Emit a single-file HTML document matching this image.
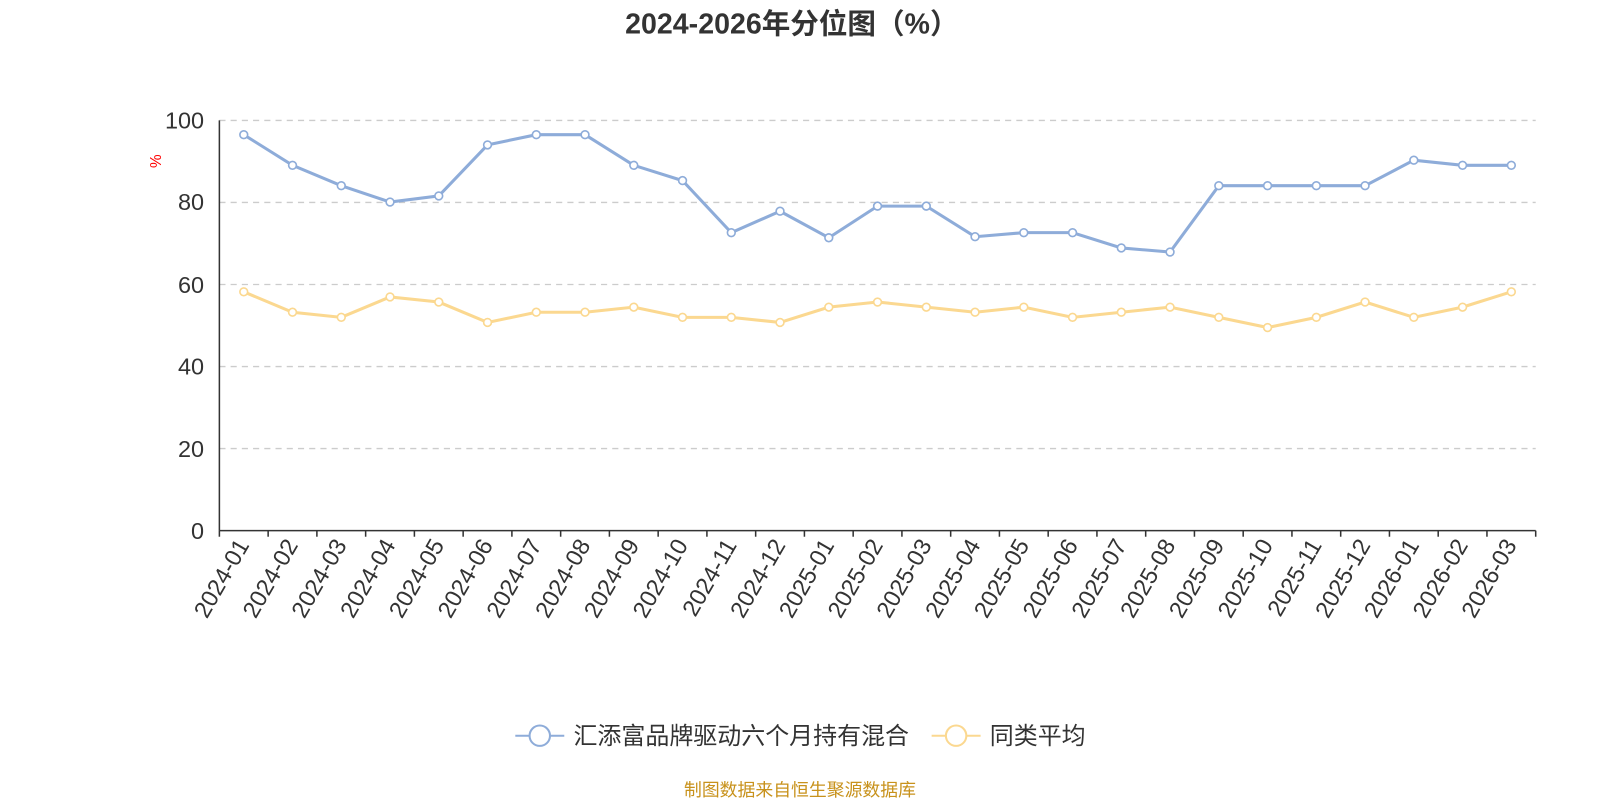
<!DOCTYPE html>
<html><head><meta charset="utf-8"><style>
body{margin:0;background:#fff;}
svg{display:block;font-family:"Liberation Sans","Noto Sans CJK SC",sans-serif;}
</style></head><body>
<svg width="1600" height="800" viewBox="0 0 1600 800" xmlns="http://www.w3.org/2000/svg">
<g transform="scale(1.0204)">
<text x="776" y="33" text-anchor="middle" font-size="28" font-weight="bold" fill="#333">2024-2026年分位图（%）</text>
<g stroke="#ccc" stroke-dasharray="6,5" stroke-width="1.3">
<line x1="215" y1="118" x2="1505" y2="118"/><line x1="215" y1="198.4" x2="1505" y2="198.4"/>
<line x1="215" y1="278.8" x2="1505" y2="278.8"/><line x1="215" y1="359.2" x2="1505" y2="359.2"/>
<line x1="215" y1="439.6" x2="1505" y2="439.6"/></g>
<g stroke="#333" stroke-width="1.5"><line x1="215" y1="118" x2="215" y2="520"/><line x1="215" y1="520" x2="1505" y2="520"/></g>
<g font-size="23" fill="#333" text-anchor="end">
<text x="200" y="126">100</text><text x="200" y="206">80</text><text x="200" y="287">60</text>
<text x="200" y="367">40</text><text x="200" y="448">20</text><text x="200" y="528">0</text></g>
<text x="158" y="158" font-size="15" fill="red" transform="rotate(-90 158 158)" text-anchor="middle">%</text>
<g id="ticks" stroke="#333" stroke-width="1.5"></g>
<g id="xl" font-size="23" fill="#333"></g>
<polyline id="b" fill="none" stroke="#8eacd9" stroke-width="3"/>
<polyline id="y" fill="none" stroke="#fbd890" stroke-width="3"/>
<g id="pts"></g>
<line x1="505" y1="721" x2="553" y2="721" stroke="#8eacd9" stroke-width="2"/>
<circle cx="529" cy="721" r="10" fill="#fff" stroke="#8eacd9" stroke-width="2"/>
<text x="562" y="729" font-size="23.5" fill="#333">汇添富品牌驱动六个月持有混合</text>
<line x1="913" y1="721" x2="961" y2="721" stroke="#fbd890" stroke-width="2"/>
<circle cx="937" cy="721" r="10" fill="#fff" stroke="#fbd890" stroke-width="2"/>
<text x="970" y="729" font-size="23.5" fill="#333">同类平均</text>
<text x="784" y="780" text-anchor="middle" font-size="17.5" fill="#c8921c">制图数据来自恒生聚源数据库</text>
</g>
</svg>
<script>
var ns="http://www.w3.org/2000/svg";
var B=[132,162,182,198,192,142,132,132,162,177,228,207,233,202,202,232,228,228,243,247,182,182,182,182,157,162,162];
var Y=[286,306,311,291,296,316,306,306,301,311,311,316,301,296,301,306,301,311,306,301,311,321,311,296,311,301,286];
var w=1290/27,bp=[],yp=[],t=document.getElementById('ticks'),xl=document.getElementById('xl'),p=document.getElementById('pts');
for(var i=0;i<=27;i++){var l=document.createElementNS(ns,'line');var x=215+w*i;l.setAttribute('x1',x);l.setAttribute('x2',x);l.setAttribute('y1',520);l.setAttribute('y2',526);t.appendChild(l);}
for(var i=0;i<27;i++){var x=215+w*(i+0.5);bp.push(x+','+B[i]);yp.push(x+','+Y[i]);
var yr=2024+Math.floor(i/12),m=i%12+1;var tx=document.createElementNS(ns,'text');tx.textContent=yr+'-'+(m<10?'0':'')+m;
tx.setAttribute('text-anchor','end');tx.setAttribute('transform','translate('+(x+6)+',534) rotate(-60)');xl.appendChild(tx);
[[B[i],'#8eacd9'],[Y[i],'#fbd890']].forEach(function(a){var c=document.createElementNS(ns,'circle');c.setAttribute('cx',x);c.setAttribute('cy',a[0]);c.setAttribute('r',3.8);c.setAttribute('fill','#fff');c.setAttribute('stroke',a[1]);c.setAttribute('stroke-width',1.6);p.appendChild(c);});}
document.getElementById('b').setAttribute('points',bp.join(' '));
document.getElementById('y').setAttribute('points',yp.join(' '));
</script>
</body></html>
